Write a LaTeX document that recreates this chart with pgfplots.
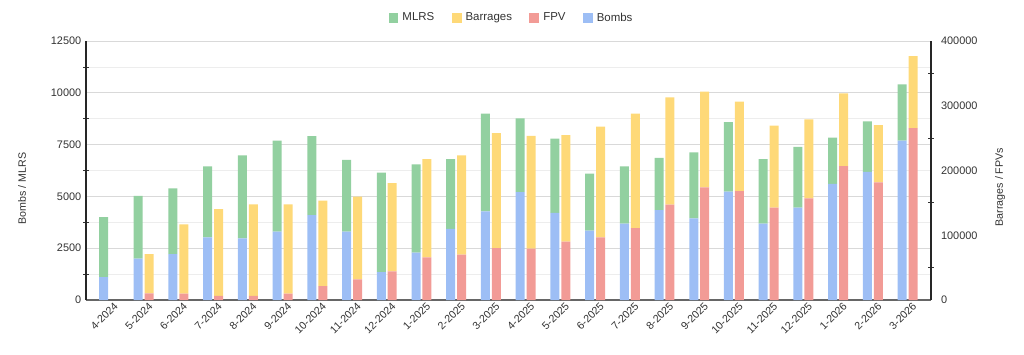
\documentclass[border=0pt]{standalone}
\usepackage{pgfplots}
\pgfplotsset{compat=1.18}
\usepackage{pgfplotstable}
\usepackage{fontspec}
\setmainfont{Liberation Sans}
\definecolor{cMLRS}{RGB}{146,208,160}
\definecolor{cBar}{RGB}{254,217,120}
\definecolor{cFPV}{RGB}{242,155,150}
\definecolor{cBomb}{RGB}{157,190,245}
\pgfplotstableread{
idx bombs mlrs
0 1100 2900
1 2000 3020
2 2220 3170
3 3025 3425
4 2980 4005
5 3300 4395
6 4100 3815
7 3300 3460
8 1350 4800
9 2290 4260
10 3430 3375
11 4280 4720
12 5210 3560
13 4200 3590
14 3350 2750
15 3690 2760
16 4340 2515
17 3945 3185
18 5230 3360
19 3690 3115
20 4460 2925
21 5600 2240
22 6180 2445
23 7690 2720
}\lefttable
\pgfplotstableread{
idx fpv barr
1 10300 60700
2 10000 106900
3 6200 134300
4 6200 141600
5 10000 137800
6 21600 131900
7 32000 127600
8 44300 136400
9 65900 151800
10 70100 153300
11 80300 177600
12 79400 173900
13 90200 164600
14 96800 170900
15 111200 176600
16 147300 165700
17 174000 147800
18 168300 138000
19 142700 126600
20 157000 122000
21 206900 112200
22 181700 88500
23 265600 111100
}\righttable
\pgfplotsset{
  common/.style={
    scale only axis, width=633.75pt, height=194.25pt,
    at={(0,0)}, anchor=south west,
    xmin=-0.662, xmax=23.675,
    ybar stacked, bar width=6.75pt,
    /pgf/number format/assume math mode=true,
    tick label style={font=\fontsize{8.2}{9.5}\selectfont, text=black!80},
    label style={font=\fontsize{8}{9.5}\selectfont, text=black!80},
    major tick length=0pt, minor tick length=4pt, tick align=center,
    minor tick style={black!80, line width=0.6pt},
  }
}
\begin{document}
\begin{tikzpicture}[x=1pt,y=1pt]
\useasboundingbox (-64.5,-40.5) rectangle (703.5,225);
\begin{axis}[common,
  ymin=0, ymax=12500,
  axis y line*=left, axis x line*=bottom,
  ytick={0,2500,...,12500}, minor ytick={1250,3750,...,11250},
  ymajorgrids, yminorgrids,
  major grid style={black!15, line width=0.5pt},
  minor grid style={black!7, line width=0.5pt},
  scaled y ticks=false,
  yticklabel style={/pgf/number format/fixed, /pgf/number format/1000 sep={}},
  xtick={0,...,23},
  xticklabels={4-2024,5-2024,6-2024,7-2024,8-2024,9-2024,10-2024,11-2024,12-2024,1-2025,2-2025,3-2025,4-2025,5-2025,6-2025,7-2025,8-2025,9-2025,10-2025,11-2025,12-2025,1-2026,2-2026,3-2026},
  xticklabel style={rotate=45, anchor=north east, inner sep=1pt, xshift=2.5pt, yshift=-2pt, font=\fontsize{8}{9.5}\selectfont},
  x axis line style={black!60, line width=0.8pt},
  y axis line style={black!85, line width=0.8pt},
  ylabel={Bombs / MLRS},
  ylabel style={at={(axis description cs:-0.0757,0.43)}, anchor=center},
  bar shift=-4.1pt,
]
\addplot[fill=cBomb, draw=none] table[x=idx, y=bombs] {\lefttable};
\addplot[fill=cMLRS, draw=none] table[x=idx, y=mlrs] {\lefttable};
\end{axis}
\begin{axis}[common,
  ymin=0, ymax=400000,
  axis y line*=right, axis x line=none,
  ytick={0,100000,...,400000}, minor ytick={50000,150000,...,350000},
  scaled y ticks=false,
  yticklabel style={/pgf/number format/fixed, /pgf/number format/1000 sep={}, anchor=west, xshift=4pt},
  y axis line style={black!85, line width=0.8pt},
  ylabel={Barrages / FPVs},
  ylabel style={at={(axis description cs:1.0817,0.436)}, anchor=center, rotate=0},
  bar shift=4.1pt,
  legend style={draw=none, fill=none, legend columns=4,
    at={(axis description cs:0.504,1.089)}, anchor=center,
    font=\fontsize{8.6}{10}\selectfont, text=black!80,
    /tikz/every even column/.append style={column sep=11pt},
    /tikz/every odd column/.append style={column sep=1pt}},
  legend image code/.code={\fill[#1] (0pt,-3.7pt) rectangle (7.4pt,3.7pt);},
]
\addlegendimage{fill=cMLRS, draw=none}
\addlegendimage{fill=cBar, draw=none}
\addlegendimage{fill=cFPV, draw=none}
\addlegendimage{fill=cBomb, draw=none}
\addplot[fill=cFPV, draw=none] table[x=idx, y=fpv] {\righttable};
\addplot[fill=cBar, draw=none] table[x=idx, y=barr] {\righttable};
\legend{MLRS,Barrages,FPV,Bombs}
\end{axis}
\end{tikzpicture}
\end{document}
